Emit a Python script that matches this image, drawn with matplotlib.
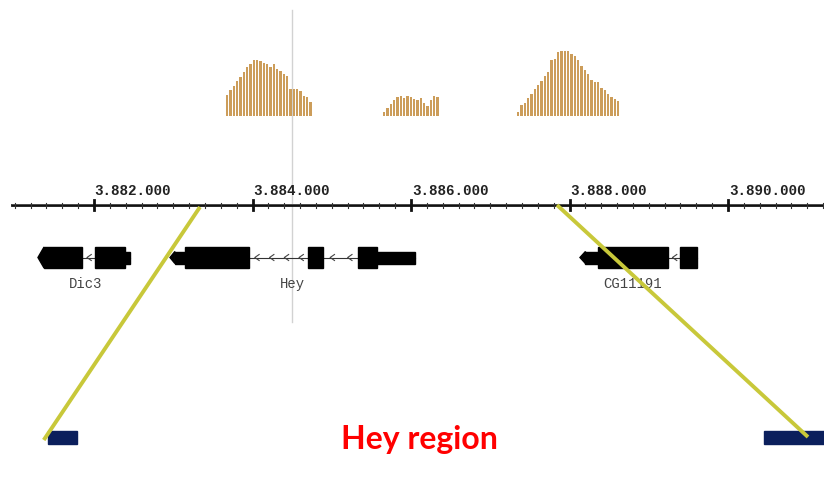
import numpy as np
import matplotlib
matplotlib.use("Agg")
import matplotlib.pyplot as plt
from matplotlib.patches import Rectangle, Polygon

# ---------------- data ----------------
# genomic window (bp) shown across the image width
view_start = 3880814
view_end = 3891211

tick_major = [3882000, 3884000, 3886000, 3888000, 3890000]
tick_labels = ["3.882.000", "3.884.000", "3.886.000", "3.888.000", "3.890.000"]
minor_step = 200

bin_bp = 42
peak1_start = 3883666
peak1_cov = [21, 26, 30, 35, 39, 44, 49, 52, 56, 56, 55, 53, 52, 49, 52, 47, 45,
             42, 40, 27, 27, 27, 25, 20, 19, 14]
peak2_start = 3885647
peak2_cov = [4, 8, 12, 16, 19, 20, 18, 20, 19, 17, 16, 18, 13, 10, 16, 20, 19]
peak3_start = 3887337
peak3_cov = [4, 11, 13, 18, 22, 27, 31, 35, 40, 44, 56, 57, 64, 65, 65, 65, 62,
             60, 56, 50, 46, 42, 36, 34, 34, 28, 26, 22, 19, 17, 15]

gene_names = ["Dic3", "Hey", "CG11191"]
gene_label_pos = [3881900, 3884498, 3888800]
# exons (start, end) per gene
gene_exons = [
    [(3881369, 3881849), (3882013, 3882391)],
    [(3883148, 3883956), (3884700, 3884889), (3885331, 3885571)],
    [(3888359, 3889243), (3889394, 3889609)],
]
# UTR / thin parts (start, end)
gene_utrs = [
    [(3882391, 3882454)],
    [(3883020, 3883148), (3885571, 3886050)],
    [(3888200, 3888359)],
]
gene_tips = [3881293, 3882959, 3888132]   # arrow tips (minus strand)

marker_line = 3884498
zoom_left_top = 3883337
zoom_right_top = 3887842
zoom_left_bottom = 3881366
zoom_right_bottom = 3891009
block_left = (3881420, 3881786)
block_right = (3890454, 3891211)

# ---------------- figure ----------------
W, H = 824, 491
fig = plt.figure(figsize=(W / 100, H / 100), dpi=100)
fig.patch.set_facecolor("white")
ax = fig.add_axes([0, 0, 1, 1])
ax.set_xlim(view_start, view_end)
ax.set_ylim(H, 0)
ax.axis("off")

# coverage track axes
cov_top, cov_base = 50, 116
axc = fig.add_axes([0, (H - cov_base) / H, 1, (cov_base - cov_top) / H])
axc.set_xlim(view_start, view_end)
axc.set_ylim(0, cov_base - cov_top)
axc.axis("off")
axc.patch.set_alpha(0)

bar_col = "#cc9d5a"
for start, cov in [(peak1_start, peak1_cov), (peak2_start, peak2_cov), (peak3_start, peak3_cov)]:
    xs = start + np.arange(len(cov)) * bin_bp
    axc.bar(xs, cov, width=bin_bp * 0.72, align="edge", color=bar_col,
            edgecolor="none", linewidth=0)

# vertical marker line
ax.plot([marker_line, marker_line], [10, 322], color="#d2d2d2", lw=1.0, zorder=1)

# ruler
axis_y = 205
ax.plot([view_start + 12 * 12.618, view_end], [axis_y, axis_y], color="#111111", lw=2.0, zorder=3)
ax.plot([view_start + 12 * 12.618, view_end], [axis_y - 1.5, axis_y - 1.5], color="#555555", lw=0.6, zorder=3)
minors = np.arange(3881000, view_end, minor_step)
for m in minors:
    ax.plot([m, m], [axis_y - 2.5, axis_y + 2.5], color="#333333", lw=0.8, zorder=3)
for t, lab in zip(tick_major, tick_labels):
    ax.plot([t, t], [axis_y - 5, axis_y + 5], color="#111111", lw=2.0, zorder=4)
    ax.text(t + 10, axis_y - 7, lab, ha="left", va="bottom", fontsize=10.3,
            family="Liberation Mono", fontweight="bold", color="#222222")

# genes
gy = 257.5
exon_h = 21
utr_h = 12
for name, lx, exons, utrs, tip in zip(gene_names, gene_label_pos, gene_exons, gene_utrs, gene_tips):
    all_parts = sorted(exons + utrs)
    # intron line
    ax.plot([all_parts[0][0], all_parts[-1][1]], [gy, gy], color="#333333", lw=0.8, zorder=2)
    for (s, e) in exons:
        ax.add_patch(Rectangle((s, gy - exon_h / 2), e - s, exon_h, color="black", zorder=4))
    for (s, e) in utrs:
        ax.add_patch(Rectangle((s, gy - utr_h / 2), e - s, utr_h, color="black", zorder=4))
    first = all_parts[0]
    hh = exon_h / 2 if first in exons else utr_h / 2
    ax.add_patch(Polygon([(tip, gy), (first[0] + 1, gy - hh), (first[0] + 1, gy + hh)],
                         closed=True, color="black", zorder=4))
    # intron chevrons
    for (a, b) in zip(all_parts[:-1], all_parts[1:]):
        gap_s, gap_e = a[1], b[0]
        n = int((gap_e - gap_s) // 150)
        for k in range(n):
            cx = gap_s + (k + 0.5) * (gap_e - gap_s) / max(n, 1)
            ax.plot([cx + 35, cx - 20, cx + 35], [gy - 3, gy, gy + 3], color="#444444", lw=0.8, zorder=3)
    ax.text(lx, 284, name, ha="center", va="center", fontsize=10,
            family="Liberation Mono", color="#444444")

# zoom connector lines
yel = "#c8c83a"
ax.plot([zoom_left_top, zoom_left_bottom], [207, 440], color=yel, lw=2.8, solid_capstyle="butt", zorder=6)
ax.plot([zoom_right_top, zoom_right_bottom], [205, 437], color=yel, lw=2.8, solid_capstyle="butt", zorder=6)

navy = "#0b1f5c"
for (s, e) in [block_left, block_right]:
    ax.add_patch(Rectangle((s, 431), e - s, 13, color=navy, zorder=5))

ax.text(3886102, 440, "Hey region", ha="center", va="center", fontsize=23,
        family="Lato", fontweight="bold", color="#ff0000")

fig.savefig("out.png", dpi=100, facecolor="white")
